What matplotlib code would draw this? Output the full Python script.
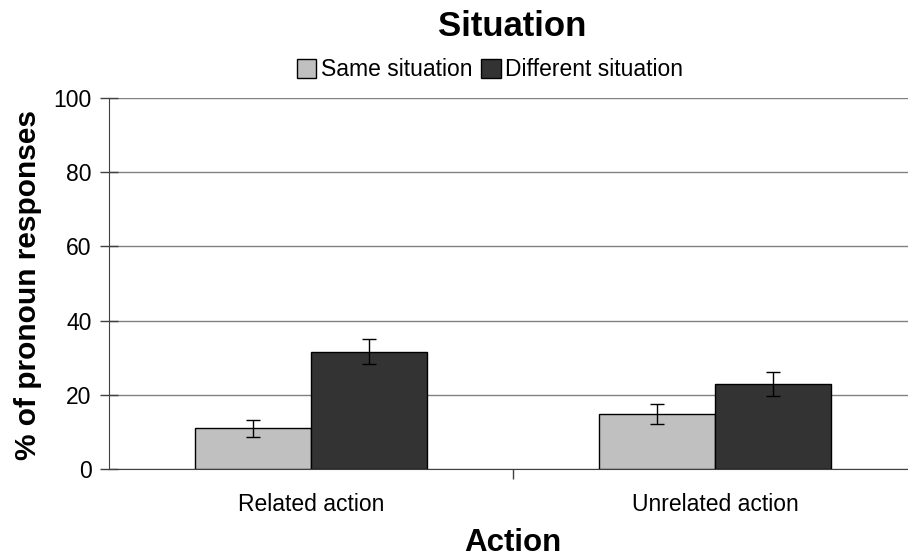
import matplotlib
matplotlib.use("Agg")
import matplotlib.pyplot as plt
import numpy as np
from matplotlib.patches import Patch

plt.rcParams['font.family'] = ['Liberation Sans', 'DejaVu Sans']

categories = ["Related action", "Unrelated action"]
series_names = ["Same situation", "Different situation"]
same_vals = [11.0, 14.8]
same_err = [2.3, 2.7]
diff_vals = [31.6, 23.0]
diff_err = [3.4, 3.2]
colors_ = ["#C0C0C0", "#333333"]

fig = plt.figure(figsize=(9.08, 5.6), dpi=100)
ax = fig.add_axes([0.12, 0.1625, 0.89, 0.6625])

x = np.arange(len(categories))
w = 0.288
ax.bar(x - w/2, same_vals, w, color=colors_[0], edgecolor="black", linewidth=1,
       yerr=same_err, error_kw=dict(ecolor="black", capsize=5, elinewidth=1, capthick=1), zorder=3)
ax.bar(x + w/2, diff_vals, w, color=colors_[1], edgecolor="black", linewidth=1,
       yerr=diff_err, error_kw=dict(ecolor="black", capsize=5, elinewidth=1, capthick=1), zorder=3)

ax.set_xlim(-0.5, 1.5)
ax.set_ylim(0, 100)
ax.set_yticks(range(0, 101, 20))
ax.yaxis.grid(True, color="#808080", linewidth=1)
ax.set_axisbelow(True)

# category labels at group centers, a single tick between groups
ax.set_xticks([0.5])
ax.set_xticklabels([""])
ax.set_xticks(x, minor=True)
ax.set_xticklabels(categories, minor=True)
ax.tick_params(axis="x", which="minor", length=0, labelsize=16.5, pad=17)
ax.tick_params(axis="x", which="major", length=7, width=1, color="#404040")
ax.tick_params(axis="y", direction="inout", length=13, width=1, labelsize=16.5, pad=6, color="#404040")

for s in ["top", "right"]:
    ax.spines[s].set_visible(False)
ax.spines["left"].set_color("#404040")
ax.spines["bottom"].set_color("#404040")

fig.text(28/908, 1 - 285/560, "% of pronoun responses", rotation=90, ha="center", va="center",
         fontsize=21.5, fontweight="bold")
fig.text(513/908, 1 - 543/560, "Action", ha="center", va="center", fontsize=22.5, fontweight="bold")
fig.text(512/908, 1 - 26/560, "Situation", ha="center", va="center", fontsize=25, fontweight="bold")

handles = [Patch(facecolor=c, edgecolor="black", linewidth=1) for c in colors_]
fig.legend(handles, series_names, loc="center", bbox_to_anchor=(490/908, 1 - 70/560), ncol=2,
           frameon=False, fontsize=16.5, handlelength=0.85, handleheight=0.85,
           handletextpad=0.2, columnspacing=0.4, borderpad=0)

fig.savefig("out.png", dpi=100)
